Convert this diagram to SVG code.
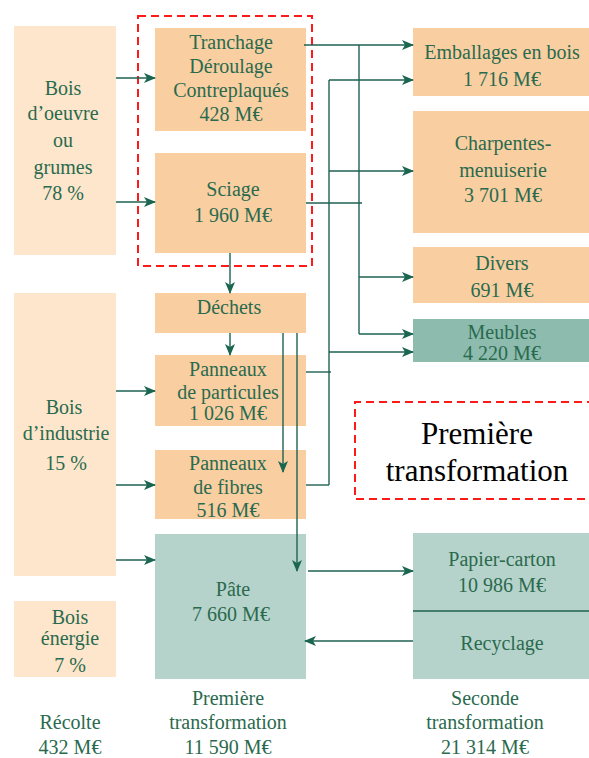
<svg xmlns="http://www.w3.org/2000/svg" width="589" height="758" viewBox="0 0 589 758">
  <style>
    .src { fill: #FDE6CC; }
    .mid { fill: #F9CFA2; }
    .teal { fill: #B6D3CB; }
    .dark { fill: #8DBBAE; }
    text { font-family: "Liberation Serif", Tinos, "Noto Serif", FreeSerif, "Nimbus Roman", "Nimbus Roman No9 L", Times, "DejaVu Serif", serif; font-size: 20px; fill: #2A6A4E; text-anchor: middle; }
    text.big { font-size: 31px; fill: #000000; }
    .wire { stroke: #1F6152; stroke-width: 1.4; fill: none; }
    .arr { stroke: #1F6152; stroke-width: 1.4; fill: none; marker-end: url(#head); }
    .frame { fill: none; stroke: #FF1A1A; stroke-width: 2; stroke-dasharray: 8 5; }
  </style>
  <defs>
    <marker id="head" viewBox="0 0 12 10" refX="11" refY="5" markerWidth="12" markerHeight="10" markerUnits="userSpaceOnUse" orient="auto">
      <path d="M0,0 L12,5 L0,10 L3,5 Z" fill="#1A6650"/>
    </marker>
  </defs>
  <rect width="589" height="758" fill="#FFFFFF"/>

  <!-- harvest column -->
  <g id="bois-oeuvre">
    <rect class="src" x="14" y="26" width="102" height="229"/>
    <text x="63" y="95">Bois</text>
    <text x="63" y="120">d’oeuvre</text>
    <text x="63" y="147">ou</text>
    <text x="63" y="174">grumes</text>
    <text x="63" y="200">78 %</text>
  </g>
  <g id="bois-industrie">
    <rect class="src" x="14" y="293" width="102" height="283"/>
    <text x="64" y="414">Bois</text>
    <text x="66" y="440">d’industrie</text>
    <text x="66" y="470">15 %</text>
  </g>
  <g id="bois-energie">
    <rect class="src" x="14" y="601" width="102" height="76"/>
    <text x="70" y="624">Bois</text>
    <text x="70" y="645">énergie</text>
    <text x="70" y="672">7 %</text>
  </g>

  <!-- first transformation column -->
  <g id="tranchage">
    <rect class="mid" x="155" y="28" width="151" height="103"/>
    <text x="231" y="49">Tranchage</text>
    <text x="231" y="73">Déroulage</text>
    <text x="231" y="97">Contreplaqués</text>
    <text x="231" y="121">428 M€</text>
  </g>
  <g id="sciage">
    <rect class="mid" x="155" y="153" width="151" height="100"/>
    <text x="233" y="196">Sciage</text>
    <text x="233" y="222">1 960 M€</text>
  </g>
  <g id="dechets">
    <rect class="mid" x="155" y="293" width="151" height="40"/>
    <text x="229" y="314">Déchets</text>
  </g>
  <g id="particules">
    <rect class="mid" x="155" y="355" width="151" height="71"/>
    <text x="228" y="376">Panneaux</text>
    <text x="228" y="399">de particules</text>
    <text x="228" y="420">1 026 M€</text>
  </g>
  <g id="fibres">
    <rect class="mid" x="155" y="450" width="151" height="69"/>
    <text x="228" y="470">Panneaux</text>
    <text x="228" y="494">de fibres</text>
    <text x="228" y="517">516 M€</text>
  </g>
  <g id="pate">
    <rect class="teal" x="155" y="534" width="151" height="145"/>
    <text x="233" y="596">Pâte</text>
    <text x="231" y="621">7 660 M€</text>
  </g>

  <!-- second transformation column -->
  <g id="emballages">
    <rect class="mid" x="413" y="28" width="176" height="68"/>
    <text x="502" y="59">Emballages en bois</text>
    <text x="502" y="86">1 716 M€</text>
  </g>
  <g id="charpentes">
    <rect class="mid" x="413" y="111" width="176" height="122"/>
    <text x="503" y="150">Charpentes-</text>
    <text x="503" y="177">menuiserie</text>
    <text x="503" y="202">3 701 M€</text>
  </g>
  <g id="divers">
    <rect class="mid" x="413" y="247" width="176" height="56"/>
    <text x="502" y="270">Divers</text>
    <text x="502" y="297">691 M€</text>
  </g>
  <g id="meubles">
    <rect class="dark" x="413" y="319" width="176" height="43"/>
    <text x="502" y="339">Meubles</text>
    <text x="502" y="360">4 220 M€</text>
  </g>
  <g id="papier-carton">
    <rect class="teal" x="413" y="533" width="176" height="146"/>
    <line x1="413" y1="611" x2="589" y2="611" stroke="#1F6152" stroke-width="1.4"/>
    <text x="502" y="566">Papier-carton</text>
    <text x="502" y="592">10 986 M€</text>
    <text x="502" y="650">Recyclage</text>
  </g>

  <!-- column captions -->
  <g id="captions">
    <text x="70" y="729">Récolte</text>
    <text x="70" y="754">432 M€</text>
    <text x="228" y="705">Première</text>
    <text x="228" y="729">transformation</text>
    <text x="228" y="754">11 590 M€</text>
    <text x="485" y="705">Seconde</text>
    <text x="485" y="729">transformation</text>
    <text x="485" y="754">21 314 M€</text>
  </g>

  <!-- highlight frames -->
  <g id="frames">
    <rect class="frame" x="138" y="16" width="174" height="250"/>
    <path class="frame" d="M595,402 H355 V499 H595"/>
    <text class="big" x="477" y="444">Première</text>
    <text class="big" x="477" y="481">transformation</text>
  </g>

  <g id="connectors">
    <!-- harvest to first transformation -->
    <line class="arr" x1="116" y1="78" x2="155" y2="78"/>
    <line class="arr" x1="116" y1="202" x2="155" y2="202"/>
    <line class="arr" x1="116" y1="391" x2="155" y2="391"/>
    <line class="arr" x1="116" y1="485" x2="155" y2="485"/>
    <line class="arr" x1="116" y1="560" x2="155" y2="560"/>
    <!-- sawmill waste -->
    <line class="arr" x1="230" y1="253" x2="230" y2="293"/>
    <line class="arr" x1="230" y1="333" x2="230" y2="355"/>
    <line class="arr" x1="283" y1="333" x2="283" y2="472"/>
    <line class="arr" x1="297" y1="333" x2="297" y2="571"/>
    <!-- solid wood bus -->
    <line class="wire" x1="304" y1="45" x2="359" y2="45"/>
    <line class="arr" x1="359" y1="45" x2="413" y2="45"/>
    <line class="wire" x1="306" y1="203" x2="362" y2="203"/>
    <line class="wire" x1="359" y1="45" x2="359" y2="334"/>
    <line class="arr" x1="359" y1="277" x2="413" y2="277"/>
    <line class="arr" x1="359" y1="334" x2="413" y2="334"/>
    <!-- panel bus -->
    <line class="wire" x1="329" y1="80" x2="329" y2="485"/>
    <line class="arr" x1="329" y1="80" x2="413" y2="80"/>
    <line class="arr" x1="329" y1="171" x2="413" y2="171"/>
    <line class="arr" x1="329" y1="352" x2="413" y2="352"/>
    <line class="wire" x1="306" y1="372" x2="331" y2="372"/>
    <line class="wire" x1="306" y1="485" x2="329" y2="485"/>
    <!-- pulp and paper loop -->
    <line class="arr" x1="308" y1="571" x2="413" y2="571"/>
    <line class="arr" x1="413" y1="641" x2="305" y2="641"/>
  </g>
</svg>
